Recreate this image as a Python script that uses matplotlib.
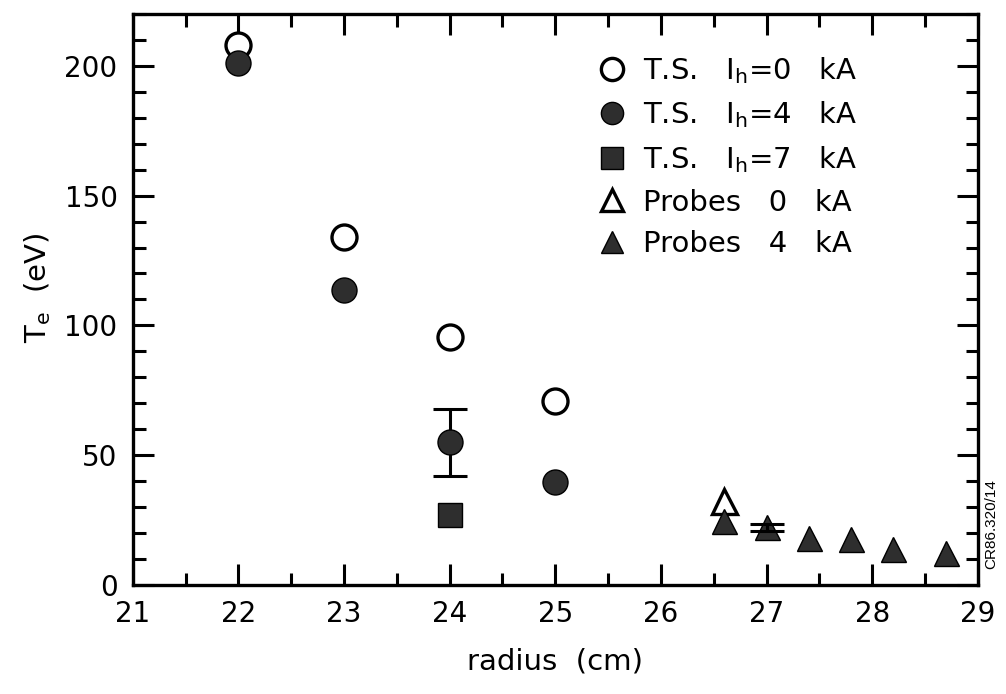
import matplotlib
matplotlib.use("Agg")
import matplotlib.pyplot as plt
from matplotlib.ticker import MultipleLocator

plt.rcParams["font.family"] = ["DejaVu Sans"]
plt.rcParams["mathtext.default"] = "regular"

# Thomson scattering profiles
ts0_r = [22, 23, 24, 25]
ts0_te = [208, 134, 95.5, 71]
ts4_r = [22, 23, 24, 25]
ts4_te = [201, 113.5, 55, 39.5]
ts4_err = [0, 0, 13, 0]
ts7_r = [24]
ts7_te = [27]

# Langmuir probe points
pr0_r = [26.6]
pr0_te = [32.5]
pr4_r = [26.6, 27.0, 27.4, 27.8, 28.2, 28.7]
pr4_te = [24.6, 22.3, 18.3, 17.9, 14.0, 12.2]
pr4_err = [0, 1.3, 0, 0, 0, 0]

labels = ["T.S.   I$_h$=0   kA", "T.S.   I$_h$=4   kA", "T.S.   I$_h$=7   kA",
          "Probes   0   kA", "Probes   4   kA"]

fill = "#2e2e2e"
fig = plt.figure(figsize=(10.06, 6.94), dpi=100)
ax = fig.add_axes([0.132, 0.157, 0.840, 0.823])


def bars(r, te, err, z):
    """Draw error bars only where an uncertainty is given."""
    sel = [i for i, e in enumerate(err) if e > 0]
    ax.errorbar([r[i] for i in sel], [te[i] for i in sel], yerr=[err[i] for i in sel],
                fmt="none", ecolor="black", elinewidth=2.2, capsize=12, capthick=2.2,
                zorder=z)


ms = 18
h0, = ax.plot(ts0_r, ts0_te, "o", ms=ms, mfc="white", mec="black", mew=2.4, ls="none", zorder=3)
h1, = ax.plot(ts4_r, ts4_te, "o", ms=ms, mfc=fill, mec="black", mew=1, ls="none", zorder=4)
bars(ts4_r, ts4_te, ts4_err, 2)
h2, = ax.plot(ts7_r, ts7_te, "s", ms=17, mfc=fill, mec="black", mew=1, ls="none", zorder=3)
h3, = ax.plot(pr0_r, pr0_te, "^", ms=18, mfc="white", mec="black", mew=2.4, ls="none", zorder=3)
h4, = ax.plot(pr4_r, pr4_te, "^", ms=18, mfc=fill, mec="black", mew=1, ls="none", zorder=4)
bars(pr4_r, pr4_te, pr4_err, 5)

ax.set_xlim(21, 29)
ax.set_ylim(0, 220)
ax.xaxis.set_major_locator(MultipleLocator(1))
ax.xaxis.set_minor_locator(MultipleLocator(0.5))
ax.yaxis.set_major_locator(MultipleLocator(50))
ax.yaxis.set_minor_locator(MultipleLocator(10))
ax.tick_params(which="both", direction="in", top=True, right=True, width=2.2)
ax.tick_params(which="major", length=15, labelsize=20, pad=11)
ax.tick_params(which="minor", length=9)
for s in ax.spines.values():
    s.set_linewidth(2.4)

ax.set_xlabel("radius  (cm)", fontsize=21, labelpad=14)
ax.set_ylabel("T$_e$  (eV)", fontsize=21)
ax.yaxis.set_label_coords(-0.095, 0.52)

leg = ax.legend([h0, h1, h2, h3, h4], labels, loc="upper left",
                bbox_to_anchor=(0.55, 0.928), frameon=False, fontsize=21,
                handlelength=1.0, handletextpad=0.55, labelspacing=0.47,
                borderaxespad=0, borderpad=0)
for hd in leg.legend_handles:
    hd.set_markersize(16)

fig.text(0.985, 0.245, "CR86.320/14", rotation=90, fontsize=11,
         family="Liberation Sans", ha="center", va="center")

fig.savefig("out.png", dpi=100)
